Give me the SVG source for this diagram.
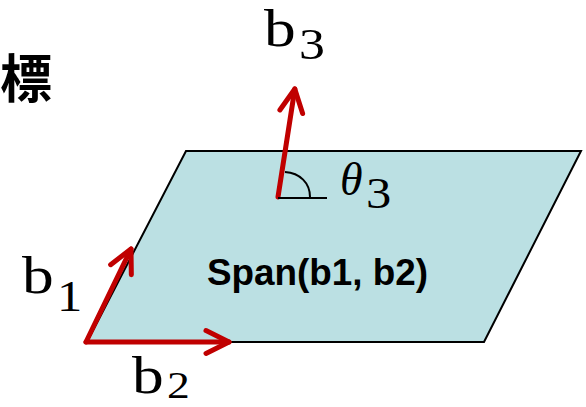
<svg xmlns="http://www.w3.org/2000/svg" width="586" height="407" viewBox="0 0 586 407">
<style>
.vec{stroke:#C00000;stroke-width:5;fill:none;stroke-linecap:round}
.thin{stroke:#000;stroke-width:2;fill:none}
.m{font-family:"Liberation Serif","Times New Roman",serif;fill:#000}
.mi{font-family:"Liberation Serif","Times New Roman",serif;font-style:italic;fill:#000}
.lbl{font-family:"Liberation Sans",Arial,sans-serif;font-weight:bold;font-size:36px;fill:#000}
.cjk{font-family:"Noto Sans CJK JP","Noto Sans CJK SC",sans-serif;font-size:52px;font-weight:bold;fill:#000}
</style>
<defs>
<marker id="head" markerUnits="userSpaceOnUse" orient="auto" refX="0" refY="0" markerWidth="40" markerHeight="40" viewBox="-30 -20 40 40" overflow="visible">
<path d="M-23,-11.5 L0,0 L-23,11.5" fill="none" stroke="#C00000" stroke-width="5" stroke-linecap="round" stroke-linejoin="round"/>
</marker>
</defs>
<rect width="586" height="407" fill="#fff"/>
<g id="plane">
<polygon points="186,151 581,151 484,342 87,342" fill="#BBE0E3" stroke="#000" stroke-width="2"/>
<text class="lbl" x="207" y="285" textLength="221" lengthAdjust="spacingAndGlyphs">Span(b1, b2)</text>
</g>
<g id="connectors">
<line class="vec" x1="86" y1="342" x2="229" y2="342" marker-end="url(#head)"/>
<line class="vec" x1="86" y1="342" x2="131" y2="249" marker-end="url(#head)"/>
<line class="vec" x1="278" y1="197" x2="294.8" y2="89" marker-end="url(#head)"/>
</g>
<g id="angle">
<line class="thin" x1="278" y1="198" x2="327" y2="198"/>
<path class="thin" d="M285,172 C300,173 310,183 310,197"/>
<text class="mi" x="340" y="195" font-size="46">θ</text>
<text class="m" transform="translate(366,208) scale(1.15,1)" font-size="44">3</text>
</g>
<g id="label-b3">
<text class="m" transform="translate(264,46) scale(1.22,1)" font-size="52">b</text>
<text class="m" transform="translate(299,59) scale(1.15,1)" font-size="45">3</text>
</g>
<g id="label-b1">
<text class="m" transform="translate(22,293) scale(1.22,1)" font-size="52">b</text>
<text class="m" transform="translate(57,311) scale(1.15,1)" font-size="44">1</text>
</g>
<g id="label-b2">
<text class="m" transform="translate(132,393) scale(1.22,1)" font-size="52">b</text>
<text class="m" transform="translate(167,398) scale(1.2,1)" font-size="38">2</text>
</g>
<g id="title">
<text class="cjk" x="0" y="98">標</text>
</g>
</svg>
